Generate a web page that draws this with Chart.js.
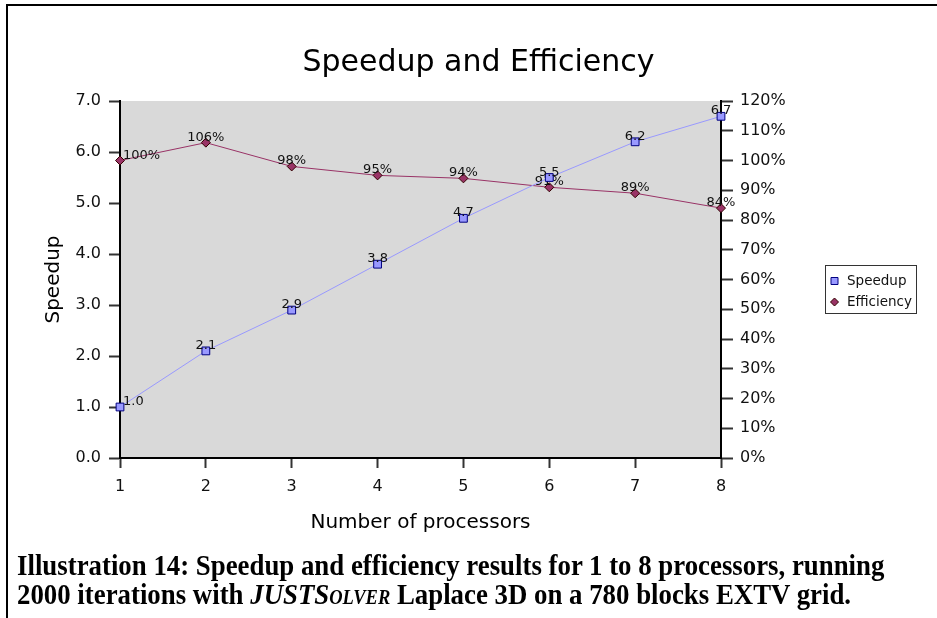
<!DOCTYPE html>
<html>
<head>
<meta charset="utf-8">
<title>Speedup and Efficiency</title>
<script src="https://cdn.jsdelivr.net/npm/chart.js@4.4.0/dist/chart.umd.min.js"></script>
<style>
    html, body { margin: 0; padding: 0; background: #fff; }
    #page { position: relative; width: 937px; height: 618px; overflow: hidden; }
    #frame {
        position: absolute; left: 6px; top: 4px; right: -4px; bottom: -4px;
        border-left: 2px solid #000; border-top: 2px solid #000;
    }
    #c { position: absolute; left: 0; top: 0; }
    #caption {
        position: absolute; left: 17px; top: 551px;
        font: bold 29px/29px 'Liberation Serif', 'Times New Roman', serif;
        color: #000; white-space: nowrap;
        transform: scaleX(0.925); transform-origin: 0 0;
    }
    #caption .sc { font-variant: small-caps; }
</style>
</head>
<body>
<div id="page">
    <div id="frame"></div>
    <canvas id="c" width="937" height="618"></canvas>
    <div id="caption">Illustration 14: Speedup and efficiency results for 1 to 8 processors, running<br>2000 iterations with <i>JUSTS<span class="sc">olver</span></i> Laplace 3D on a 780 blocks EXTV grid.</div>
</div>
<script>
// Number of processors on the x axis
const processors = ['1', '2', '3', '4', '5', '6', '7', '8'];

// Measured speedup (left axis)
const speedup = [1.0, 2.1, 2.9, 3.8, 4.7, 5.5, 6.2, 6.7];

// Parallel efficiency in percent (right axis)
const efficiency = [100, 106, 98, 95, 94, 91, 89, 84];

const SPEEDUP_COLOR = '#9999ff';
const EFFICIENCY_COLOR = '#993366';

Chart.defaults.font.family = "'DejaVu Sans', Verdana, sans-serif";
Chart.defaults.color = '#111';

// Grey fill behind the plot area
const plotBackground = {
    id: 'plotBackground',
    beforeDraw(chart) {
        const { ctx, chartArea: a } = chart;
        ctx.save();
        ctx.fillStyle = '#d9d9d9';
        ctx.fillRect(a.left, a.top, a.right - a.left, a.bottom - a.top);
        ctx.restore();
    }
};

// Value labels just above each point, drawn right after their own dataset
const pointLabels = {
    id: 'pointLabels',
    afterDatasetDraw(chart, args) {
        const ds = chart.data.datasets[args.index];
        const ctx = chart.ctx;
        ctx.save();
        ctx.font = "13px 'DejaVu Sans'";
        ctx.fillStyle = '#111';
        ctx.textBaseline = 'alphabetic';
        args.meta.data.forEach((pt, i) => {
            const v = ds.data[i];
            const text = ds.labelDigits != null ? v.toFixed(ds.labelDigits) : v + (ds.labelSuffix || '');
            if (i === 0) {
                ctx.textAlign = 'left';
                ctx.fillText(text, pt.x + 3, pt.y - 2);
            } else {
                ctx.textAlign = 'center';
                ctx.fillText(text, pt.x, pt.y - 2);
            }
        });
        ctx.restore();
    }
};

// Framed legend to the right of the value axis
const boxedLegend = {
    id: 'boxedLegend',
    afterDraw(chart) {
        const ctx = chart.ctx;
        const box = { x: 825.5, y: 265.5, w: 91, h: 48 };
        ctx.save();
        ctx.fillStyle = '#ffffff';
        ctx.fillRect(box.x, box.y, box.w, box.h);
        ctx.strokeStyle = '#333';
        ctx.lineWidth = 1;
        ctx.strokeRect(box.x, box.y, box.w, box.h);

        ctx.font = "13.5px 'DejaVu Sans'";
        ctx.textAlign = 'left';
        ctx.textBaseline = 'middle';

        chart.data.datasets.forEach((ds, i) => {
            const cy = 281 + i * 21;
            const cx = 834.5;
            ctx.fillStyle = ds.pointBackgroundColor;
            ctx.strokeStyle = ds.pointBorderColor;
            ctx.beginPath();
            if (ds.pointStyle === 'rect') {
                ctx.rect(cx - 3.5, cy - 3.5, 7, 7);
            } else {
                ctx.moveTo(cx, cy - 4);
                ctx.lineTo(cx + 4, cy);
                ctx.lineTo(cx, cy + 4);
                ctx.lineTo(cx - 4, cy);
                ctx.closePath();
            }
            ctx.fill();
            ctx.stroke();
            ctx.fillStyle = '#111';
            ctx.fillText(ds.label, 847, cy);
        });
        ctx.restore();
    }
};

new Chart(document.getElementById('c'), {
    type: 'line',
    data: {
        labels: processors,
        datasets: [
            {
                label: 'Speedup',
                data: speedup,
                yAxisID: 'y',
                borderColor: SPEEDUP_COLOR,
                borderWidth: 1,
                pointStyle: 'rect',
                pointRadius: 5.5,
                pointBackgroundColor: SPEEDUP_COLOR,
                pointBorderColor: '#000080',
                pointBorderWidth: 1,
                clip: false,
                labelDigits: 1
            },
            {
                label: 'Efficiency',
                data: efficiency,
                yAxisID: 'y1',
                borderColor: EFFICIENCY_COLOR,
                borderWidth: 1,
                pointStyle: 'rectRot',
                pointRadius: 4.5,
                pointBackgroundColor: EFFICIENCY_COLOR,
                pointBorderColor: '#330000',
                pointBorderWidth: 1,
                clip: false,
                labelSuffix: '%'
            }
        ]
    },
    options: {
        responsive: false,
        animation: false,
        layout: { padding: { left: 20, right: 0, top: 0, bottom: 80 } },
        plugins: {
            legend: { display: false },
            tooltip: { enabled: false },
            title: {
                display: true,
                text: 'Speedup and Efficiency',
                color: '#000',
                font: { size: 30, weight: 'normal' },
                padding: { top: 45, bottom: 20 }
            }
        },
        scales: {
            x: {
                offset: false,
                grid: { offset: false, drawOnChartArea: false, tickLength: 10, tickColor: '#333', tickWidth: 2 },
                border: { display: true, color: '#000', width: 2 },
                ticks: { font: { size: 16 }, padding: 9, maxRotation: 0 },
                title: {
                    display: true,
                    text: 'Number of processors',
                    color: '#000',
                    font: { size: 20 },
                    padding: { top: 0, bottom: 3 }
                },
                afterFit(scale) { scale.height = 80; }
            },
            y: {
                position: 'left',
                min: 0,
                max: 7,
                grid: { drawOnChartArea: false, tickLength: 11, tickColor: '#333', tickWidth: 2 },
                border: { display: true, color: '#000', width: 2 },
                ticks: { stepSize: 1, font: { size: 16 }, padding: 8, callback: v => v.toFixed(1) },
                title: {
                    display: true,
                    text: 'Speedup',
                    color: '#000',
                    font: { size: 20 },
                    padding: { top: 22, bottom: 0 }
                },
                afterFit(scale) { scale.width = 100; }
            },
            y1: {
                position: 'right',
                min: 0,
                max: 120,
                grid: { drawOnChartArea: false, tickLength: 12, tickColor: '#333', tickWidth: 2 },
                border: { display: true, color: '#000', width: 2 },
                ticks: { stepSize: 10, font: { size: 16 }, padding: 7, callback: v => v + '%' },
                afterFit(scale) { scale.width = 216; }
            }
        }
    },
    plugins: [plotBackground, pointLabels, boxedLegend]
});
</script>
</body>
</html>
